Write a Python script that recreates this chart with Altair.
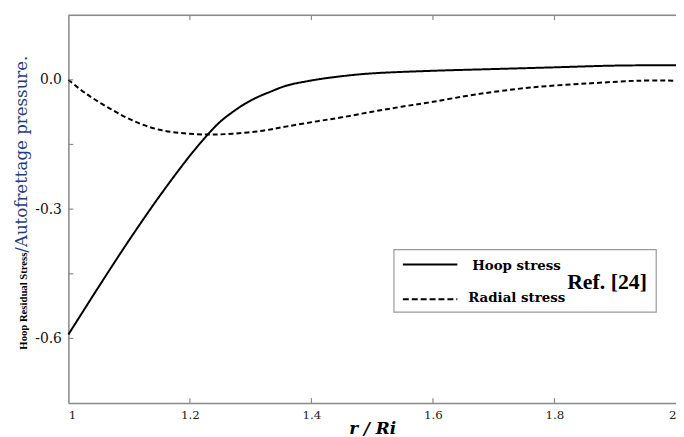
import altair as alt
import pandas as pd

# ---- data ----
hoop_r = [1.0, 1.05, 1.1, 1.15, 1.2, 1.23, 1.25, 1.27, 1.29, 1.31, 1.33, 1.36, 1.39, 1.42, 1.46, 1.5, 1.6, 1.7, 1.8, 1.9, 2.0]
hoop_s = [-0.591, -0.480, -0.372, -0.270, -0.176, -0.126, -0.097, -0.075, -0.056, -0.041, -0.029, -0.013, -0.004, 0.003, 0.010, 0.015, 0.021, 0.025, 0.029, 0.033, 0.034]

radial_r = [1.0, 1.03, 1.07, 1.11, 1.15, 1.19, 1.23, 1.27, 1.32, 1.36, 1.41, 1.45, 1.5, 1.55, 1.6, 1.67, 1.76, 1.86, 1.94, 2.0]
radial_s = [0.0, -0.033, -0.068, -0.097, -0.116, -0.124, -0.127, -0.125, -0.118, -0.108, -0.096, -0.087, -0.074, -0.062, -0.051, -0.034, -0.018, -0.008, -0.002, -0.002]

series_names = ["Hoop stress", "Radial stress"]
ref_label = "Ref. [24]"
x_ticks = [1.0, 1.2, 1.4, 1.6, 1.8, 2.0]
x_inner_ticks = [1.2, 1.4, 1.6, 1.8]
y_ticks = [0.0, -0.3, -0.6]
y_inner_ticks = [0.0, -0.15, -0.3, -0.45, -0.6]
y_title_a = "Hoop Residual Stress"
y_title_b = "/Autofrettage pressure."
x_title = "r / Ri"

W, H = 614, 392
SERIF = "Liberation Serif"

df = pd.concat([
    pd.DataFrame({"r": hoop_r, "s": hoop_s, "series": series_names[0]}),
    pd.DataFrame({"r": radial_r, "s": radial_s, "series": series_names[1]}),
])

xs = alt.Scale(domain=[1, 2], nice=False, zero=False)
ys = alt.Scale(domain=[-0.75, 0.15], nice=False, zero=False)

lines = alt.Chart(df).mark_line(color="black", strokeWidth=2, interpolate="catmull-rom").encode(
    x=alt.X("r:Q", scale=xs, axis=alt.Axis(
        values=x_ticks, ticks=False, grid=False, domainColor="#8a8a8a", domainWidth=1.5,
        labelExpr="datum.value == 1 ? '1' : datum.value == 2 ? '2' : format(datum.value, '.1f')",
        labelFont="DejaVu Serif", labelFontSize=12, labelColor="#222", labelPadding=7,
        title=x_title, titleFont="DejaVu Serif", titleFontStyle="italic", titleFontWeight="bold",
        titleFontSize=17, titlePadding=0, titleColor="black")),
    y=alt.Y("s:Q", scale=ys, axis=alt.Axis(
        values=y_ticks, ticks=False, grid=False, domainColor="#8a8a8a", domainWidth=1.5,
        labelExpr="datum.value < 0 ? '-' + format(-datum.value, '.1f') : format(datum.value, '.1f')",
        labelFont="DejaVu Serif", labelFontSize=14, labelColor="#111", labelPadding=7,
        title=None)),
    strokeDash=alt.StrokeDash("series:N", scale=alt.Scale(domain=series_names, range=[[1, 0], [5, 3]]), legend=None),
    detail="series:N",
)

# top border (no right border visible in the reference)
top_border = alt.Chart(pd.DataFrame({"a": [0]})).mark_rule(color="#8a8a8a", strokeWidth=1.5).encode(
    x=alt.value(0), x2=alt.value(W), y=alt.value(0))

xt = pd.DataFrame({"r": x_inner_ticks})
xtick_bottom = alt.Chart(xt).mark_rule(color="#8a8a8a", strokeWidth=1.2).encode(
    x=alt.X("r:Q", scale=xs), y=alt.value(H), y2=alt.value(H - 5))
xtick_top = alt.Chart(xt).mark_rule(color="#8a8a8a", strokeWidth=1.2).encode(
    x=alt.X("r:Q", scale=xs), y=alt.value(0), y2=alt.value(5))
yt = pd.DataFrame({"s": y_inner_ticks})
ytick = alt.Chart(yt).mark_rule(color="#8a8a8a", strokeWidth=1.2).encode(
    y=alt.Y("s:Q", scale=ys), x=alt.value(0), x2=alt.value(5))

# y-axis title in two styles
ytitle_a = alt.Chart(pd.DataFrame({"t": [y_title_a]})).mark_text(
    angle=270, align="left", baseline="alphabetic", font=SERIF, fontWeight="bold",
    fontSize=10.8, color="black").encode(text="t:N", x=alt.value(-42), y=alt.value(338))
ytitle_b = alt.Chart(pd.DataFrame({"t": [y_title_b]})).mark_text(
    angle=270, align="left", baseline="alphabetic", font="DejaVu Serif",
    fontSize=16.8, color="#1f3d7a").encode(text="t:N", x=alt.value(-42), y=alt.value(240))

# legend box
box = alt.Chart(pd.DataFrame({"a": [0]})).mark_rect(fill="white", stroke="#9a9a9a", strokeWidth=1.2).encode(
    x=alt.value(329), x2=alt.value(594), y=alt.value(237), y2=alt.value(300))
leg_solid = alt.Chart(pd.DataFrame({"a": [0]})).mark_rule(color="black", strokeWidth=2).encode(
    x=alt.value(338), x2=alt.value(393), y=alt.value(252))
leg_dash = alt.Chart(pd.DataFrame({"a": [0]})).mark_rule(color="black", strokeWidth=2, strokeDash=[6, 3]).encode(
    x=alt.value(338), x2=alt.value(393), y=alt.value(287))
leg_t1 = alt.Chart(pd.DataFrame({"t": [series_names[0]]})).mark_text(
    align="left", baseline="alphabetic", font="DejaVu Serif", fontWeight="bold", fontSize=13.5, color="black"
).encode(text="t:N", x=alt.value(408), y=alt.value(258))
leg_t2 = alt.Chart(pd.DataFrame({"t": [series_names[1]]})).mark_text(
    align="left", baseline="alphabetic", font="DejaVu Serif", fontWeight="bold", fontSize=13.5, color="black"
).encode(text="t:N", x=alt.value(404), y=alt.value(290))
leg_ref = alt.Chart(pd.DataFrame({"t": [ref_label]})).mark_text(
    align="left", baseline="alphabetic", font=SERIF, fontWeight="bold", fontSize=22, color="black"
).encode(text="t:N", x=alt.value(504), y=alt.value(277))

chart = alt.layer(
    lines, top_border, xtick_bottom, xtick_top, ytick, ytitle_a, ytitle_b,
    box, leg_solid, leg_dash, leg_t1, leg_t2, leg_ref,
).properties(
    width=W, height=H,
    autosize=alt.AutoSizeParams(type="none"),
    padding={"left": 61, "top": 5, "right": 0, "bottom": 32},
).configure_view(stroke=None).configure(background="white")

chart.save("out.html", embed_options={"renderer": "svg", "actions": False})
